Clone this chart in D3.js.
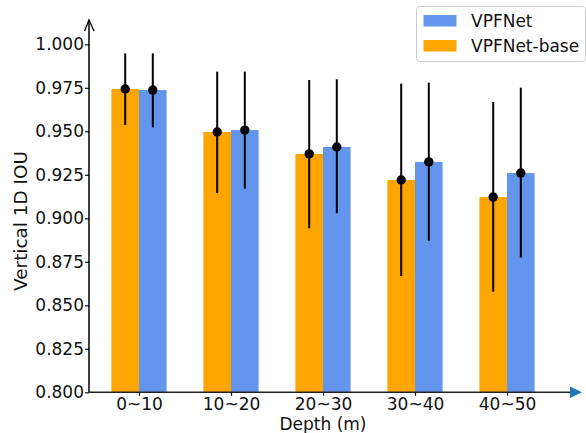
<!DOCTYPE html>
<html>
<head>
<meta charset="utf-8">
<script src="https://cdn.jsdelivr.net/npm/d3@7"></script>
<style>
  body { margin: 0; background: #fff; }
  text { font-family: "DejaVu Sans", sans-serif; }
</style>
</head>
<body>
<div id="chart"></div>
<script>
// Data
const categories = ["0~10", "10~20", "20~30", "30~40", "40~50"];
const baseMean = [0.9743, 0.9496, 0.9370, 0.9220, 0.9122];
const baseLow  = [0.9536, 0.9145, 0.8943, 0.8668, 0.8578];
const baseHigh = [0.9948, 0.9843, 0.9795, 0.9774, 0.9668];
const netMean  = [0.9737, 0.9507, 0.9410, 0.9324, 0.9260];
const netLow   = [0.9523, 0.9170, 0.9029, 0.8871, 0.8774];
const netHigh  = [0.9948, 0.9843, 0.9799, 0.9779, 0.9751];
const yTicks = [0.800, 0.825, 0.850, 0.875, 0.900, 0.925, 0.950, 0.975, 1.000];

const width = 586,
      height = 433;

const axisLeftX = 89,
      axisRightX = 570,
      axisTopY = 20;

const barW = 0.3;

const series = [
  { name: "VPFNet-base", color: "orange", offset: -barW / 2, mean: baseMean, low: baseLow, high: baseHigh },
  { name: "VPFNet", color: "cornflowerblue", offset: barW / 2, mean: netMean, low: netLow, high: netHigh }
];

const svg = d3.select("#chart")
  .append("svg")
  .attr("width", width)
  .attr("height", height);

// Scales
const x = d3.scaleLinear()
  .domain([0, categories.length - 1])
  .range([139, 507]);

const y = d3.scaleLinear()
  .domain([0.8, 1.0])
  .range([392.3, 44.3]);

const pxW = x(barW) - x(0);

// Bars
series.forEach(s => {
  svg.append("g")
    .selectAll("rect")
    .data(s.mean)
    .enter()
    .append("rect")
    .attr("x", (d, i) => x(i + s.offset) - pxW / 2)
    .attr("y", d => y(d))
    .attr("width", pxW)
    .attr("height", d => y(0.8) - y(d))
    .attr("fill", s.color);
});

// Error bars and dots
series.forEach(s => {
  const g = svg.append("g");
  g.selectAll("line")
    .data(s.mean)
    .enter()
    .append("line")
    .attr("x1", (d, i) => x(i + s.offset))
    .attr("x2", (d, i) => x(i + s.offset))
    .attr("y1", (d, i) => y(s.low[i]))
    .attr("y2", (d, i) => y(s.high[i]))
    .attr("stroke", "black")
    .attr("stroke-width", 2);
  g.selectAll("circle")
    .data(s.mean)
    .enter()
    .append("circle")
    .attr("cx", (d, i) => x(i + s.offset))
    .attr("cy", d => y(d))
    .attr("r", 4.7)
    .attr("fill", "black");
});

// Y axis
const yAxis = svg.append("g")
  .attr("transform", `translate(${axisLeftX},0)`)
  .call(d3.axisLeft(y).tickValues(yTicks).tickFormat(d3.format(".3f")).tickSize(4).tickPadding(1));
yAxis.select(".domain").remove();
yAxis.selectAll("text").style("font-size", "17px").attr("fill", "#111");
yAxis.selectAll("line").attr("stroke", "#111").attr("stroke-width", 1.2);

svg.append("line")
  .attr("x1", axisLeftX).attr("x2", axisLeftX)
  .attr("y1", y(0.8)).attr("y2", axisTopY)
  .attr("stroke", "black").attr("stroke-width", 1.5);
svg.append("path")
  .attr("d", `M${axisLeftX - 4.5},${axisTopY + 11}L${axisLeftX},${axisTopY}L${axisLeftX + 5},${axisTopY + 11}`)
  .attr("fill", "none")
  .attr("stroke", "black")
  .attr("stroke-width", 1.3);

// X axis
const xAxis = svg.append("g")
  .attr("transform", `translate(0,${y(0.8)})`)
  .call(d3.axisBottom(x).tickValues(d3.range(categories.length)).tickFormat(i => categories[i]).tickSize(3.5).tickPadding(2.6));
xAxis.select(".domain").remove();
xAxis.selectAll("text").style("font-size", "17px").attr("fill", "#111");
xAxis.selectAll("line").attr("stroke", "#111").attr("stroke-width", 1.2);

svg.append("line")
  .attr("x1", axisLeftX - 0.75).attr("x2", axisRightX)
  .attr("y1", y(0.8)).attr("y2", y(0.8))
  .attr("stroke", "#222").attr("stroke-width", 1.6);
svg.append("path")
  .attr("d", `M${axisRightX},${y(0.8) - 5.8}L${axisRightX + 12},${y(0.8)}L${axisRightX},${y(0.8) + 5.8}Z`)
  .attr("fill", "#1f77b4");

// Axis titles
svg.append("text")
  .attr("x", x(2))
  .attr("y", 430)
  .attr("text-anchor", "middle")
  .style("font-size", "17px")
  .attr("fill", "#111")
  .text("Depth (m)");

svg.append("text")
  .attr("transform", "translate(27,221) rotate(-90)")
  .attr("text-anchor", "middle")
  .style("font-size", "18.4px")
  .attr("fill", "#111")
  .text("Vertical 1D IOU");

// Legend
const legend = svg.append("g")
  .attr("transform", "translate(416.5,6.5)");

legend.append("rect")
  .attr("width", 169)
  .attr("height", 55)
  .attr("rx", 3)
  .attr("fill", "white")
  .attr("fill-opacity", 0.8)
  .attr("stroke", "#ccc");

const legendItems = legend.selectAll(".legend-item")
  .data([series[1], series[0]])
  .enter()
  .append("g")
  .attr("class", "legend-item")
  .attr("transform", (d, i) => `translate(0,${8.5 + i * 25})`);

legendItems.append("rect")
  .attr("x", 7)
  .attr("width", 33)
  .attr("height", 11.5)
  .attr("fill", d => d.color);

legendItems.append("text")
  .attr("x", 54.5)
  .attr("y", 12.2)
  .style("font-size", "17px")
  .attr("fill", "#111")
  .text(d => d.name);
</script>
</body>
</html>
